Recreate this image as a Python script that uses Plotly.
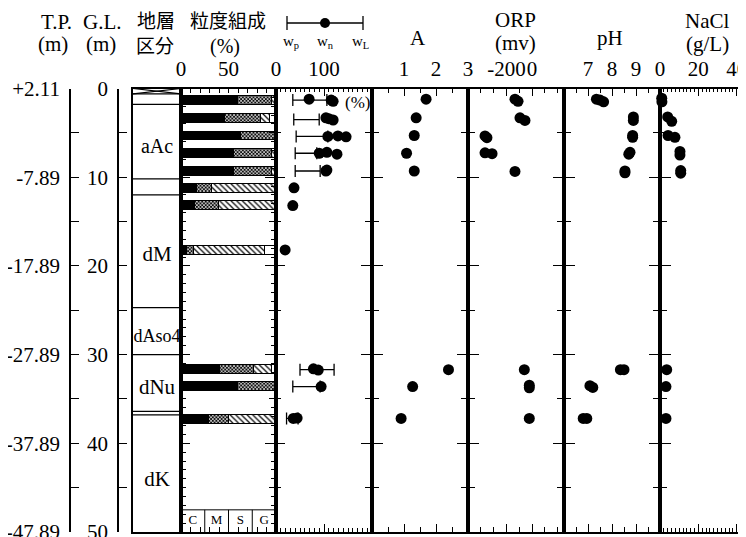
import plotly.graph_objects as go

W, H = 746, 537
OFF = 8  # page body margin of the rendered html

# ------------------------------------------------------------------ data
# stratigraphy (G.L. depth, m)
STRAT_LINES = [0.6, 1.8, 10.2, 12.0, 24.7, 30.0, 36.4, 36.8]
STRAT_NAMES = ["aAc", "dM", "dAso4", "dNu", "dK"]
STRAT_LABEL_DEPTH = [6.7, 18.9, 28.1, 33.9, 44.2]
FILL_BOTTOM = 0.6

# depth axis labels
GL_TICKS = [0, 10, 20, 30, 40, 50]
TP_LABELS = ["+2.11", "-7.89", "-17.89", "-27.89", "-37.89", "-47.89"]

# grain size composition (%)
GS_DEPTH = [1.3, 3.3, 5.3, 7.25, 9.3, 11.25, 13.15, 18.25, 31.6, 33.5, 37.3]
CLAY = [59, 46, 63, 55, 55, 16, 14, 6, 41, 59, 29]
SILT = [36, 38, 35, 40, 40, 16, 25, 7, 35, 39, 21]
SAND = [5, 9, 2, 5, 5, 68, 61, 75, 19, 2, 50]
GRAVEL = [0, 7, 0, 0, 0, 0, 0, 12, 5, 0, 0]
KEY_LABELS = ["C", "M", "S", "G"]

# water content (%)
WC_RANGE_DEPTH = [1.3, 3.5, 5.4, 7.3, 9.3, 31.7, 33.6, 37.2]
WP = [35, 37, 42, 40, 40, 50, 35, 22]
WL = [106, 90, 108, 85, 92, 121, 92, 46]
WN_DEPTH = [1.2, 1.3, 1.45, 3.3, 3.4, 3.55, 5.4, 5.35, 5.45, 7.3, 7.2, 7.4,
            9.3, 9.2, 11.2, 13.2, 18.2, 31.6, 31.75, 33.6, 37.2, 37.15]
WN = [69, 115, 119, 104, 110, 119, 108, 129, 146, 90, 106, 127,
      104, 106, 37.5, 35, 19, 78, 88, 94, 36, 44]

# A
A_DEPTH = [1.2, 3.3, 5.3, 7.3, 9.3, 31.7, 33.6, 37.2]
A_VAL = [1.69, 1.38, 1.32, 1.08, 1.32, 2.39, 1.27, 0.91]

# ORP (mv)
ORP_DEPTH = [1.2, 1.45, 3.3, 3.6, 5.35, 5.55, 7.25, 7.35, 9.35,
             31.7, 33.45, 33.75, 37.2]
ORP_VAL = [-133, -109, -94, -55, -367, -352, -367, -312, -133,
           -60, -21, -21, -21]

# pH
PH_DEPTH = [1.2, 1.3, 1.5, 3.2, 3.6, 5.3, 5.5, 7.2, 7.4, 9.3, 9.5,
            31.7, 31.7, 33.5, 33.7, 37.2, 37.2]
PH_VAL = [7.35, 7.5, 7.65, 8.89, 8.89, 8.86, 8.86, 8.75, 8.7, 8.54, 8.54,
          8.35, 8.5, 7.08, 7.2, 6.8, 6.95]

# NaCl (g/L)
NACL_DEPTH = [1.1, 1.5, 3.2, 3.7, 5.3, 5.5, 7.1, 7.5, 9.25, 9.55, 31.7, 33.6, 37.2]
NACL_VAL = [0.9, 1.0, 4.0, 6.1, 4.2, 7.8, 10.4, 10.4, 10.8, 10.8, 3.5, 3.1, 3.1]

# ------------------------------------------------------------------ layout helpers
def px(x):
    return (x - OFF) / W


def py(y):
    return 1 - (y - OFF) / H


SERIF = "Liberation Serif"
CJK = "Noto Sans CJK JP"
FS = 21
BLACK = "black"
LW = 1.5

Y_DOM = [py(532), py(88.5)]
DEPTH_RANGE = [50, 0]

fig = go.Figure()

# ---- stratigraphy column (x / y)
sx, sy = [], []
for d in STRAT_LINES:
    sx += [0, 1, None]
    sy += [d, d, None]
# fill symbol (crossed box) at the top
sx += [0, 1, None, 0, 1, None]
sy += [0, FILL_BOTTOM, None, FILL_BOTTOM, 0, None]
fig.add_trace(go.Scatter(x=sx, y=sy, mode="lines", line=dict(color=BLACK, width=1.2),
                         xaxis="x", yaxis="y", hoverinfo="skip", showlegend=False))
fig.add_trace(go.Scatter(x=[0.5] * len(STRAT_NAMES), y=STRAT_LABEL_DEPTH, mode="text",
                         text=STRAT_NAMES, textposition="middle center",
                         textfont=dict(family=SERIF, size=[20, 21, 18, 21, 21], color=BLACK),
                         xaxis="x", yaxis="y", hoverinfo="skip", showlegend=False))

# ---- grain size bars (x2 / y2)
BAR_W = 1.0
gs_styles = [
    (CLAY, dict(color=BLACK)),
    (SILT, dict(color="white", pattern=dict(shape="x", fgcolor=BLACK, bgcolor="white",
                                            size=2.5, solidity=0.6))),
    (SAND, dict(color="white", pattern=dict(shape="\\", fgcolor=BLACK, bgcolor="white",
                                            size=4, solidity=0.3))),
    (GRAVEL, dict(color="white")),
]
for vals, mk in gs_styles:
    mk = dict(mk)
    mk["line"] = dict(color=BLACK, width=1)
    fig.add_trace(go.Bar(x=vals, y=GS_DEPTH, orientation="h", width=BAR_W, marker=mk,
                         xaxis="x2", yaxis="y2", hoverinfo="skip", showlegend=False))

# key boxes at the bottom of the grain size column
KEY_TOP = 47.5
step = 100 / len(KEY_LABELS)
kx = [0, 100, None]
ky = [KEY_TOP, KEY_TOP, None]
for i in range(1, len(KEY_LABELS)):
    kx += [i * step, i * step, None]
    ky += [KEY_TOP, 50, None]
fig.add_trace(go.Scatter(x=kx, y=ky, mode="lines", line=dict(color=BLACK, width=1),
                         xaxis="x2", yaxis="y2", hoverinfo="skip", showlegend=False))
fig.add_trace(go.Scatter(x=[(i + 0.5) * step for i in range(len(KEY_LABELS))],
                         y=[(KEY_TOP + 50) / 2] * len(KEY_LABELS), mode="text",
                         text=KEY_LABELS, textfont=dict(family=SERIF, size=13, color=BLACK),
                         xaxis="x2", yaxis="y2", hoverinfo="skip", showlegend=False))

# ---- water content (x3 / y3)
fig.add_trace(go.Scatter(
    x=WP, y=WC_RANGE_DEPTH, mode="markers",
    marker=dict(size=1, color="rgba(0,0,0,0)"),
    error_x=dict(type="data", symmetric=False,
                 array=[l - p for p, l in zip(WP, WL)], arrayminus=[0] * len(WP),
                 color=BLACK, thickness=1.3, width=6),
    xaxis="x3", yaxis="y3", hoverinfo="skip", showlegend=False))
DOT = dict(size=11, color=BLACK)
fig.add_trace(go.Scatter(x=WN, y=WN_DEPTH, mode="markers", marker=DOT,
                         xaxis="x3", yaxis="y3", showlegend=False))
fig.add_trace(go.Scatter(x=A_VAL, y=A_DEPTH, mode="markers", marker=DOT,
                         xaxis="x4", yaxis="y4", showlegend=False))
fig.add_trace(go.Scatter(x=ORP_VAL, y=ORP_DEPTH, mode="markers", marker=DOT,
                         xaxis="x5", yaxis="y5", showlegend=False))
fig.add_trace(go.Scatter(x=PH_VAL, y=PH_DEPTH, mode="markers", marker=DOT,
                         xaxis="x6", yaxis="y6", showlegend=False))
fig.add_trace(go.Scatter(x=NACL_VAL, y=NACL_DEPTH, mode="markers", marker=DOT,
                         xaxis="x7", yaxis="y7", showlegend=False,
                         cliponaxis=False))

# dummy traces so that the free depth axes are drawn
for ya in ["y8", "y9", "y10"]:
    fig.add_trace(go.Scatter(x=[None], y=[None], xaxis="x3" if ya == "y10" else "x",
                             yaxis=ya, showlegend=False, hoverinfo="skip"))

# ------------------------------------------------------------------ axes
tickfont = dict(family=SERIF, size=FS, color=BLACK)


def xaxis_cfg(x0, x1, rng, tickvals=None, ticktext=None, minor_dtick=None,
              ticklen=8, minor_len=4):
    cfg = dict(domain=[px(x0), min(1.0, px(x1))], range=rng, side="top", automargin=False,
               showline=True, linecolor=BLACK, linewidth=LW, mirror="ticks",
               showgrid=False, zeroline=False, fixedrange=True, tickangle=0,
               ticks="inside" if tickvals is not None else "", ticklen=ticklen,
               tickwidth=1.2, tickcolor=BLACK, tickfont=tickfont,
               ticklabelstandoff=2)
    if tickvals is not None:
        cfg["tickmode"] = "array"
        cfg["tickvals"] = tickvals
        cfg["ticktext"] = ticktext if ticktext is not None else [str(v) for v in tickvals]
    else:
        cfg["showticklabels"] = False
    if minor_dtick is not None:
        cfg["minor"] = dict(dtick=minor_dtick, tick0=0, ticks="inside", ticklen=minor_len,
                            tickwidth=1.2, tickcolor=BLACK, showgrid=False)
    return cfg


def yaxis_cfg(anchor, ticks="outside", major_len=9, minor_dtick=5, minor_len=5,
              mirror="ticks"):
    return dict(domain=Y_DOM, range=DEPTH_RANGE, anchor=anchor, showline=True,
                automargin=False,
                linecolor=BLACK, linewidth=LW, mirror=mirror, showgrid=False,
                zeroline=False, fixedrange=True, showticklabels=False,
                ticks=ticks, tickmode="linear", tick0=0, dtick=10, ticklen=major_len,
                tickwidth=1.2, tickcolor=BLACK,
                minor=dict(dtick=minor_dtick, tick0=0, ticks=ticks, ticklen=minor_len,
                           tickwidth=1.2, tickcolor=BLACK, showgrid=False))


layout = dict(
    template="none",
    width=W, height=H, autosize=False,
    margin=dict(l=0, r=0, t=0, b=0, pad=0, autoexpand=False),
    paper_bgcolor="white", plot_bgcolor="white",
    barmode="stack", showlegend=False,
    font=dict(family=SERIF, size=FS, color=BLACK),
)

xs = xaxis_cfg(133, 181, [0, 1])
xs["anchor"] = "y"
layout["xaxis"] = xs
ysx = yaxis_cfg("x", ticks="")
ysx["mirror"] = True
layout["yaxis"] = ysx

gs = xaxis_cfg(181, 276, [0, 100], [0, 50], minor_dtick=10, ticklen=5, minor_len=5)
gs["anchor"] = "y2"
layout["xaxis2"] = gs
layout["yaxis2"] = yaxis_cfg("x2", ticks="inside", major_len=9, minor_dtick=1, minor_len=5)

wc = xaxis_cfg(276, 372, [0, 200], [0, 100], minor_dtick=10, ticklen=8, minor_len=4)
wc["anchor"] = "y3"
layout["xaxis3"] = wc
layout["yaxis3"] = yaxis_cfg("x3")

a = xaxis_cfg(372, 468, [0, 3], [1, 2, 3], minor_dtick=0.5, ticklen=8, minor_len=5)
a["anchor"] = "y4"
layout["xaxis4"] = a
layout["yaxis4"] = yaxis_cfg("x4")

orp = xaxis_cfg(468, 564, [-500, 250], [-200, 0], minor_dtick=100, ticklen=8, minor_len=5)
orp["anchor"] = "y5"
layout["xaxis5"] = orp
layout["yaxis5"] = yaxis_cfg("x5")

ph = xaxis_cfg(564, 660, [6, 10], [7, 8, 9], minor_dtick=0.5, ticklen=8, minor_len=5)
ph["anchor"] = "y6"
layout["xaxis6"] = ph
layout["yaxis6"] = yaxis_cfg("x6")

na = xaxis_cfg(660, 756, [0, 49], [0, 20, 40], minor_dtick=2, ticklen=8, minor_len=4)
na["anchor"] = "y7"
layout["xaxis7"] = na
layout["yaxis7"] = yaxis_cfg("x7")

# T.P. and G.L. depth scales
for name, pos, labels in [("yaxis8", 70, TP_LABELS), ("yaxis9", 118, [str(v) for v in GL_TICKS])]:
    layout[name] = dict(overlaying="y", anchor="free", position=px(pos), side="left",
                        range=DEPTH_RANGE, showline=True, linecolor=BLACK, linewidth=LW,
                        automargin=False,
                        showgrid=False, zeroline=False, fixedrange=True,
                        ticks="inside", ticklen=8, tickwidth=1.2, tickcolor=BLACK,
                        tickmode="array", tickvals=GL_TICKS, ticktext=labels,
                        tickfont=tickfont, ticklabelstandoff=5,
                        minor=dict(dtick=5, tick0=0, ticks="inside", ticklen=8,
                                   tickwidth=1.2, tickcolor=BLACK, showgrid=False))
# inward ticks on the left edge of the water content column
layout["yaxis10"] = dict(overlaying="y3", anchor="x3", side="left", range=DEPTH_RANGE,
                         automargin=False,
                         showline=False, showgrid=False, zeroline=False, fixedrange=True,
                         showticklabels=False, ticks="inside", tickmode="linear", tick0=0,
                         dtick=10, ticklen=9, tickwidth=1.2, tickcolor=BLACK,
                         minor=dict(dtick=5, tick0=0, ticks="inside", ticklen=5,
                                    tickwidth=1.2, tickcolor=BLACK, showgrid=False))

fig.update_layout(**layout)

# ------------------------------------------------------------------ header texts
ann = []


def text(x, y, s, size=FS, family=SERIF):
    ann.append(dict(x=px(x), y=py(y), xref="paper", yref="paper", text=s, showarrow=False,
                    xanchor="center", yanchor="middle",
                    font=dict(family=family, size=size, color=BLACK)))


text(56, 22, "T.P.")
text(53, 44, "(m)")
text(102, 22, "G.L.")
text(101, 44, "(m)")
text(156, 20, "地層", size=19, family=CJK)
text(155, 45, "区分", size=19, family=CJK)
text(228, 20, "粒度組成", size=19, family=CJK)
text(225, 46, "(%)", size=20)
text(418, 38, "A")
text(515, 20, "ORP")
text(515, 43, "(mv)")
text(610, 38, "pH")
text(707, 21, "NaCl")
text(707, 44, "(g/L)")
text(357, 102, "(%)", size=17)
text(291, 42, "w<sub>p</sub>", size=15)
text(325, 42, "w<sub>n</sub>", size=15)
text(360, 42, "w<sub>L</sub>", size=15)
fig.update_layout(annotations=ann)

# legend symbol for w_p - w_n - w_L
shapes = [
    dict(type="line", xref="paper", yref="paper", x0=px(287), x1=px(363), y0=py(23), y1=py(23),
         line=dict(color=BLACK, width=1.3)),
    dict(type="line", xref="paper", yref="paper", x0=px(287), x1=px(287), y0=py(16), y1=py(30),
         line=dict(color=BLACK, width=1.3)),
    dict(type="line", xref="paper", yref="paper", x0=px(363), x1=px(363), y0=py(16), y1=py(30),
         line=dict(color=BLACK, width=1.3)),
    dict(type="circle", xref="paper", yref="paper", x0=px(320), x1=px(330), y0=py(18), y1=py(28),
         fillcolor=BLACK, line=dict(color=BLACK, width=0)),
]
fig.update_layout(shapes=shapes)

fig.write_html("out.html")
